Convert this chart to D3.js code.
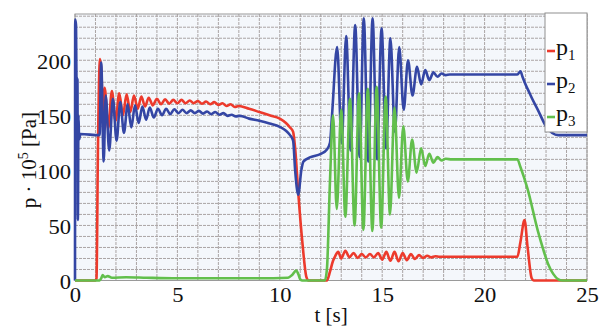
<!DOCTYPE html>
<html><head><meta charset="utf-8">
<script src="https://cdn.jsdelivr.net/npm/d3@7"></script>
<style>body{margin:0;background:#fff}svg{display:block}</style>
</head><body><svg id="c" width="601" height="329"></svg>
<script>
// ---- data ----
const xTicks = [0, 5, 10, 15, 20, 25];
const yTicks = [0, 50, 100, 150, 200];
const seriesNames = ["p1", "p2", "p3"];

const p1Data = [
  [0,0],[1.0,0],[1.05,2],[1.12,120],[1.22,201],[1.3,185],[1.36,150],[1.45,175],[1.62,138],[1.8,172],[1.98,145],[2.16,170],[2.34,150],
  [2.52,169],[2.7,153],[2.88,168],[3.06,156],[3.24,167],[3.42,158],[3.6,166],[3.8,159],[4.0,165],[4.2,160],
  [4.4,164.5],[4.6,160.5],[4.8,164],[5.0,161],[5.2,164],[5.4,161],[5.6,163.5],[5.8,161],[6.0,163],[6.2,160.5],
  [6.4,162.5],[6.6,160],[6.8,162],[7.0,159.5],[7.2,161],[7.4,158.5],[7.6,160],[7.8,157.5],[8.0,158.5],
  [8.5,156],[9.0,153],[9.5,150],[10.0,147],[10.3,143],[10.5,139],[10.65,135],[10.75,120],[10.9,80],[11.1,35],
  [11.3,3],[11.4,0],[12.3,0],[12.45,8],[12.6,18],[12.7,22],[12.85,26],[13.0,20],[13.2,27],[13.4,21],[13.6,25],
  [13.8,20.5],[14.0,24],[14.2,21],[14.4,24],[14.6,21],[14.8,25],[15.0,19],[15.2,26],[15.4,18],[15.6,26],
  [15.8,17.5],[16.0,25],[16.2,18.5],[16.4,24],[16.6,19.5],[16.8,23],[17.0,20.5],[17.2,22.5],[17.4,21],
  [17.6,22],[17.8,21.5],[18.0,21.5],[21.6,21.5],[21.75,35],[21.95,55],[22.1,30],[22.3,2],[22.4,0],[25,0]
];
const p2Data = [
  [0,0],[0.01,237],[0.05,232],[0.07,185],[0.12,182],[0.14,55],[0.17,150],[0.2,128],[0.26,133],[1.2,132],
  [1.28,198],[1.4,108],[1.5,168],[1.67,118],[1.85,165],[2.03,127],[2.21,162],[2.39,134],[2.57,160],[2.75,139],
  [2.93,159],[3.11,143],[3.29,158],[3.47,146],[3.65,157],[3.85,148],[4.05,156],[4.25,150],[4.45,156],[4.65,151],
  [4.85,155.5],[5.05,152],[5.25,155],[5.45,152],[5.65,154.5],[5.85,152],[6.05,154],[6.25,151.5],[6.45,153.5],
  [6.65,151],[6.85,153],[7.05,150.5],[7.25,152],[7.45,149.5],[7.65,150.5],[7.85,149],[8.05,149.5],
  [8.5,147],[9.0,145],[9.5,142.5],[10.0,139.5],[10.3,136],[10.5,132],[10.65,127],[10.75,100],[10.9,78],
  [11.05,100],[11.15,108],[11.5,112],[12.0,115],[12.3,119],[12.45,125],[12.55,150],[12.8,212],[13.02,125],
  [13.24,222],[13.46,118],[13.68,232],[13.9,112],[14.1,238],[14.32,108],[14.53,238],[14.75,110],[14.97,229],
  [15.19,120],[15.4,220],[15.62,135],[15.83,212],[16.05,155],[16.26,200],[16.48,168],[16.7,194],[16.9,178],
  [17.1,191],[17.3,182],[17.5,189],[17.7,185],[17.9,188],[18.1,186.5],[18.3,187],[21.6,187],[21.75,190],
  [21.85,185],[22.0,178],[22.2,170],[22.3,166],[22.6,155],[23.0,140],[23.3,134],[23.6,132],[25,132]
];
const p3Data = [
  [0,0],[1.2,0],[1.28,2],[1.35,5],[1.45,3],[1.6,4],[1.8,2.5],[2.5,3],[3.5,2.5],[5,2],[7,2],[9,2],[10.4,2.5],
  [10.6,5],[10.8,9],[10.9,6],[11.0,1],[11.1,0],[12.2,0],[12.3,10],[12.45,90],[12.6,150],[12.78,65],[13.0,155],
  [13.2,58],[13.43,165],[13.65,50],[13.87,170],[14.08,46],[14.3,174],[14.52,45],[14.73,176],[14.95,48],
  [15.17,167],[15.38,60],[15.6,157],[15.82,75],[16.03,140],[16.25,90],[16.46,128],[16.68,98],[16.9,120],
  [17.1,104],[17.3,115],[17.5,107],[17.7,112],[17.9,109],[18.1,110.5],[18.4,110],[21.6,110],[21.75,103],
  [22.1,83],[22.6,45],[22.9,26],[23.1,15],[23.35,6],[23.6,1],[23.8,0],[25,0]
];
const seriesColors = ["#ec3a2c", "#3446a4", "#62bf4c"];

// ---- drawing ----
const svg = d3.select("#c");
const L = 75, R = 587, T = 14, B = 280.5;
const x = d3.scaleLinear().domain([0, 25]).range([L, R]);
const y = d3.scaleLinear().domain([0, 242]).range([B, T]);
const serif = "'Liberation Serif','Times New Roman','DejaVu Serif',serif";

svg.append("rect").attr("x", L).attr("y", T).attr("width", R - L).attr("height", B - T).attr("fill", "#f4f7fb");

const g = svg.append("g");
g.selectAll("line.vg").data(d3.range(0, 26, 1)).join("line")
  .attr("x1", d => x(d)).attr("x2", d => x(d)).attr("y1", T).attr("y2", B)
  .attr("stroke", "#aaa4a4").attr("stroke-width", 1).attr("stroke-dasharray", "3,1");
g.selectAll("line.hg").data(d3.range(0, 250, 10).filter(v => v <= 242)).join("line")
  .attr("x1", L).attr("x2", R).attr("y1", d => y(d)).attr("y2", d => y(d))
  .attr("stroke", "#aaa4a4").attr("stroke-width", 1).attr("stroke-dasharray", "3,1");

svg.append("rect").attr("x", L).attr("y", T).attr("width", R - L).attr("height", B - T)
  .attr("fill", "none").attr("stroke", "#9a9a9a").attr("stroke-width", 1);

const line = d3.line().x(d => x(d[0])).y(d => y(d[1])).curve(d3.curveMonotoneX);
[p1Data, p2Data, p3Data].forEach((data, i) => {
  svg.append("path").datum(data).attr("d", line).attr("fill", "none")
    .attr("stroke", seriesColors[i]).attr("stroke-width", 2.6).attr("stroke-linejoin", "round");
});

// axes
const xAxis = d3.axisBottom(x).tickValues(xTicks).tickSize(0).tickPadding(0).tickFormat(d3.format("d"));
const ax = svg.append("g").attr("transform", `translate(0,${B})`).call(xAxis);
ax.attr("font-family", serif);
ax.select(".domain").remove();
ax.selectAll("text").attr("y", 0).attr("dy", 0)
  .attr("font-family", serif).attr("font-size", 20).attr("fill", "#111")
  .attr("transform", "translate(0,21.5) scale(1.13,1)");

const yAxis = d3.axisLeft(y).tickValues(yTicks).tickSize(0).tickPadding(0).tickFormat(d3.format("d"));
const ay = svg.append("g").attr("transform", `translate(${L - 4},0)`).call(yAxis);
ay.attr("font-family", serif);
ay.select(".domain").remove();
ay.selectAll("text").attr("x", 0).attr("dy", "0.35em")
  .attr("font-family", serif).attr("font-size", 20).attr("fill", "#111")
  .attr("transform", "translate(0,1) scale(1.13,1)");

// axis titles
svg.append("text").attr("x", 331).attr("y", 322).attr("text-anchor", "middle")
  .attr("font-family", serif).attr("font-size", 21).attr("fill", "#111").text("t [s]");

const yl = svg.append("text").attr("transform", "translate(36,160) rotate(-90)").attr("text-anchor", "middle")
  .attr("font-family", serif).attr("font-size", 21).attr("fill", "#111");
yl.append("tspan").text("p · 10");
yl.append("tspan").attr("dy", -8).attr("font-size", 14).text("5");
yl.append("tspan").attr("dy", 8).text(" [Pa]");

// legend
const lg = svg.append("g");
lg.append("rect").attr("x", 545).attr("y", 13).attr("width", 42).attr("height", 119)
  .attr("fill", "#fff").attr("stroke", "#8f8f8f").attr("stroke-width", 1);
seriesNames.forEach((n, i) => {
  const cy = 51 + i * 33;
  lg.append("line").attr("x1", 547).attr("x2", 555).attr("y1", cy).attr("y2", cy)
    .attr("stroke", seriesColors[i]).attr("stroke-width", 2.6);
  const t = lg.append("text").attr("x", 556).attr("y", cy + 4).attr("font-family", serif)
    .attr("font-size", 24).attr("fill", "#111");
  t.append("tspan").text("p");
  t.append("tspan").attr("dy", 5).attr("font-size", 15).text(n.slice(1));
});
</script></body></html>
